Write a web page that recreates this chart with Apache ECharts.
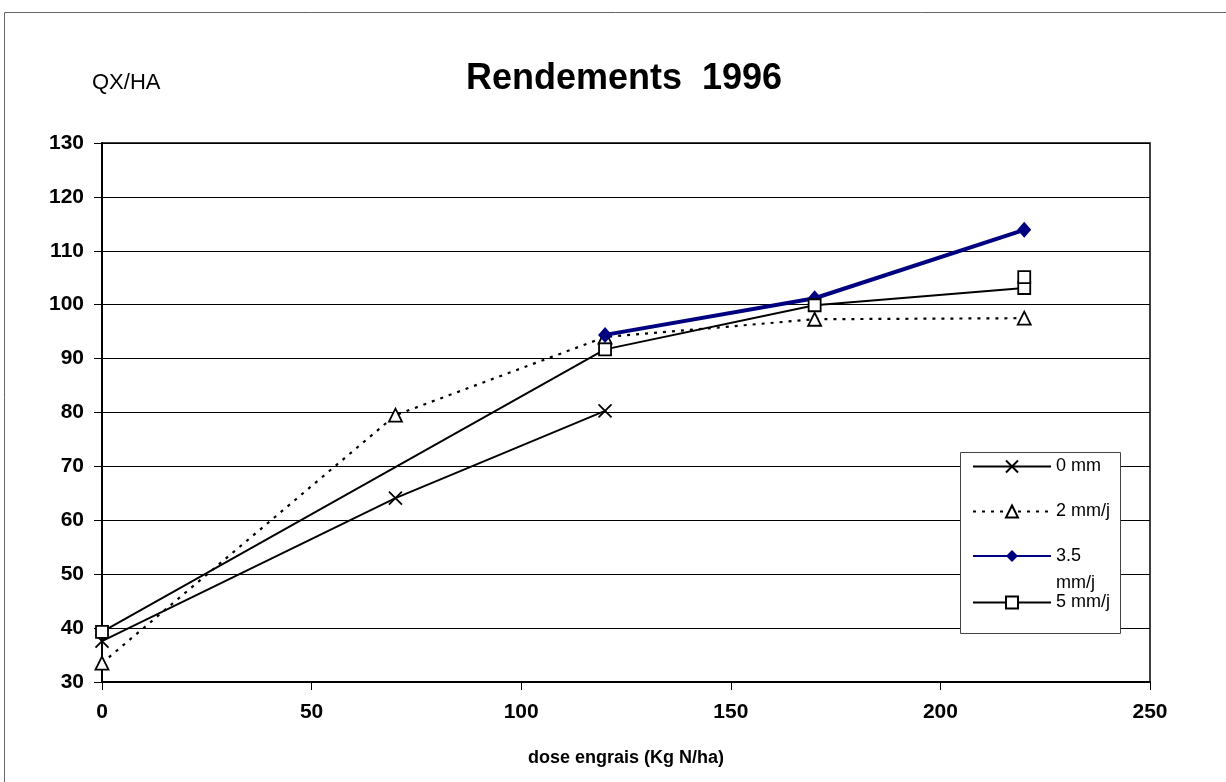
<!DOCTYPE html>
<html>
<head>
<meta charset="utf-8">
<script src="https://cdn.jsdelivr.net/npm/echarts@6/dist/echarts.min.js"></script>
<style>
html,body{margin:0;padding:0;background:#fff;}
#c{width:1226px;height:782px;}
</style>
</head>
<body>
<div id="c"></div>
<script>
// ---- data ----
const seriesNames = ['0 mm', '2 mm/j', '3.5 mm/j', '5 mm/j'];
const dose0 = [0, 70, 120];
const yield0 = [37.6, 64.1, 80.3];
const dose2 = [0, 70, 120, 170, 220];
const yield2 = [33.5, 79.5, 94.0, 97.3, 97.5];
const dose35 = [120, 170, 220];
const yield35 = [94.4, 101.2, 113.9];
const dose5 = [0, 120, 170, 220, 220];
const yield5 = [39.3, 91.7, 99.9, 103.1, 105.1];
const xTicks = [0, 50, 100, 150, 200, 250];
const yTicks = [30, 40, 50, 60, 70, 80, 90, 100, 110, 120, 130];

const pairs = (xs, ys) => xs.map((x, i) => [x, ys[i]]);
const FONT = "'Liberation Sans', Arial, sans-serif";

const chart = echarts.init(document.getElementById('c'), null, {renderer: 'canvas'});

function legendFor(name, top, extra) {
  return Object.assign({
    data: [name],
    orient: 'vertical',
    left: 972,
    top: top,
    padding: 0,
    itemWidth: 78,
    itemHeight: 15,
    itemGap: 0,
    z: 20,
    selectedMode: false,
    textStyle: {fontFamily: FONT, fontSize: 18, color: '#000', lineHeight: 20}
  }, extra || {});
}

const option = {
  animation: false,
  backgroundColor: '#fff',
  title: [
    {text: 'Rendements  1996', left: 461, top: 56,
     textStyle: {fontFamily: FONT, fontSize: 36, fontWeight: 'bold', color: '#000'}},
    {text: 'QX/HA', left: 87, top: 67,
     textStyle: {fontFamily: FONT, fontSize: 22, fontWeight: 'normal', color: '#000'}}
  ],
  grid: {left: 102, right: 76, top: 143, bottom: 100, show: true,
         borderColor: '#000', borderWidth: 1.5, backgroundColor: 'transparent'},
  xAxis: {
    type: 'value', min: xTicks[0], max: xTicks[xTicks.length - 1], interval: 50,
    name: 'dose engrais (Kg N/ha)', nameLocation: 'middle', nameGap: 67,
    nameTextStyle: {fontFamily: FONT, fontSize: 18, fontWeight: 'bold', color: '#000'},
    axisLine: {onZero: false, lineStyle: {color: '#000', width: 2}},
    axisTick: {show: true, length: 8, lineStyle: {color: '#000', width: 1}},
    axisLabel: {margin: 20, fontFamily: FONT, fontSize: 21, fontWeight: 'bold', color: '#000'},
    splitLine: {show: false}
  },
  yAxis: {
    type: 'value', min: yTicks[0], max: yTicks[yTicks.length - 1], interval: 10,
    axisLine: {show: true, lineStyle: {color: '#000', width: 2}},
    axisTick: {show: true, length: 8, lineStyle: {color: '#000', width: 1}},
    axisLabel: {margin: 18, fontFamily: FONT, fontSize: 21, fontWeight: 'bold', color: '#000'},
    splitLine: {show: true, lineStyle: {color: '#000', width: 1}}
  },
  legend: [
    legendFor(seriesNames[0], 456.5),
    legendFor(seriesNames[1], 501.5),
    legendFor(seriesNames[2], 556 - 40.5, {
      formatter: () => ' \n3.5\nmm/j',
      textStyle: {fontFamily: FONT, fontSize: 18, color: '#000', lineHeight: 27}
    }),
    legendFor(seriesNames[3], 592.5)
  ],
  graphic: [
    {type: 'rect', z: 100, silent: true,
     shape: {x: 4.5, y: 12.5, width: 1300, height: 900},
     style: {fill: 'none', stroke: '#666', lineWidth: 1}},
    {type: 'rect', z: 10, silent: true,
     shape: {x: 960.5, y: 452.5, width: 160, height: 181},
     style: {fill: '#fff', stroke: '#444', lineWidth: 1}}
  ],
  series: [
    {name: seriesNames[0], type: 'line', data: pairs(dose0, yield0),
     symbol: 'path://M0,0L10,10M10,0L0,10', symbolSize: 13, z: 3,
     itemStyle: {color: '#000', borderColor: '#000', borderWidth: 1.8},
     lineStyle: {color: '#000', width: 1.9}, emphasis: {disabled: true}},
    {name: seriesNames[1], type: 'line', data: pairs(dose2, yield2),
     symbol: 'triangle', symbolSize: 13, z: 4,
     itemStyle: {color: '#fff', borderColor: '#000', borderWidth: 1.8},
     lineStyle: {color: '#000', width: 2.2, type: [3, 6]}, emphasis: {disabled: true}},
    {name: seriesNames[2], type: 'line', data: pairs(dose35, yield35),
     symbol: 'diamond', symbolSize: [14, 16], z: 5,
     itemStyle: {color: '#000080', borderColor: '#000080', borderWidth: 0},
     lineStyle: {color: '#000080', width: 4}, emphasis: {disabled: true}},
    {name: seriesNames[3], type: 'line', data: pairs(dose5, yield5),
     symbol: 'rect', symbolSize: 12, z: 6,
     itemStyle: {color: '#fff', borderColor: '#000', borderWidth: 1.8},
     lineStyle: {color: '#000', width: 1.9}, emphasis: {disabled: true}}
  ]
};
chart.setOption(option);
</script>
</body>
</html>
